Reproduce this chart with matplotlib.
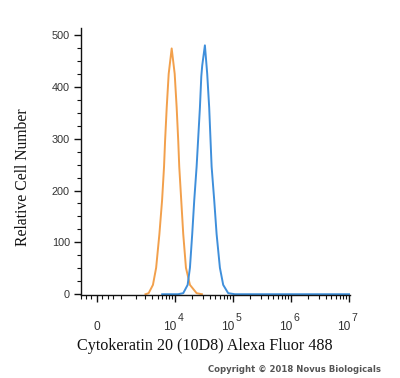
import numpy as np
import matplotlib
matplotlib.use("Agg")
import matplotlib.pyplot as plt
import matplotlib.transforms as mtransforms
from matplotlib.ticker import FixedLocator, NullFormatter

# fluorescence intensity (Alexa Fluor 488) and relative cell counts
orange_x = [3040, 3466, 4128, 4700, 5360, 5970, 6460, 6730, 7190, 7780, 8770,
            9890, 10700, 11400, 11860, 12840, 13900, 15480, 18150, 23660, 29230]
orange_y = [0, 2, 18, 51, 116, 181, 246, 295, 360, 425, 474,
            425, 360, 295, 246, 181, 116, 51, 18, 2, 0]

blue_x = [6000, 11270, 13900, 16560, 18150, 19870, 21530, 23660, 26980, 28500, 29570, 32890,
          36050, 39000, 42960, 47640, 52360, 59690, 68040, 82970, 108100, 10500000]
blue_y = [0, 0, 2, 18, 51, 116, 181, 246, 360, 420, 441, 480,
          425, 360, 246, 181, 116, 51, 18, 2, 0, 0]

major_ticks = [0, 1e4, 1e5, 1e6, 1e7]
major_bases = ["0", "10", "10", "10", "10"]
major_exps = ["", "4", "5", "6", "7"]
y_ticks = [0, 100, 200, 300, 400, 500]

C = 452.0
LN10 = np.log(10)

def fwd(x):
    x = np.asarray(x, dtype=float)
    return np.arcsinh(x / (2 * C)) / LN10 + np.log10(C)

def inv(u):
    u = np.asarray(u, dtype=float)
    return 2 * C * np.sinh((u - np.log10(C)) * LN10)

fig = plt.figure(figsize=(4.0, 3.78), dpi=100)
ax = fig.add_axes([0.2025, 0.2196, 0.6725, 0.7064])

ax.set_xscale('function', functions=(fwd, inv))
ax.plot(orange_x, orange_y, color='#F2A04C', lw=1.4)
ax.plot(blue_x, blue_y, color='#3F8FDB', lw=1.4)

ax.set_xlim(float(inv(2.38)), float(inv(7.02)))
ax.set_ylim(-1.5, 513.5)

for s in ['top', 'right']:
    ax.spines[s].set_visible(False)
for s in ['left', 'bottom']:
    ax.spines[s].set_linewidth(1.0)
    ax.spines[s].set_color('#111111')
ax.spines['bottom'].set_zorder(3)

ax.xaxis.set_major_locator(FixedLocator(major_ticks))
ax.xaxis.set_major_formatter(NullFormatter())
minors = [-600, -400, -200, 200, 400, 600, 1000]
for d in [1e3, 1e4, 1e5, 1e6]:
    minors += [k * d for k in range(2, 10)]
ax.xaxis.set_minor_locator(FixedLocator(minors))
ax.tick_params(axis='x', which='major', length=5, width=1, direction='out', color='#111111')
ax.tick_params(axis='x', which='minor', length=3, width=0.8, direction='out', color='#111111')

# x tick labels: base and superscript exponent
xtrans = ax.get_xaxis_transform()
for v, b, e in zip(major_ticks, major_bases, major_exps):
    if e:
        t1 = mtransforms.offset_copy(xtrans, fig=fig, x=1.2, y=-25.2, units='points')
        ax.text(v, 0, b, transform=t1, ha='right', va='baseline', fontsize=8.6,
                fontfamily='Liberation Sans', color='#333333', clip_on=False)
        t2 = mtransforms.offset_copy(xtrans, fig=fig, x=2.2, y=-18.5, units='points')
        ax.text(v, 0, e, transform=t2, ha='left', va='baseline', fontsize=7.6,
                fontfamily='Liberation Sans', color='#333333', clip_on=False)
    else:
        t1 = mtransforms.offset_copy(xtrans, fig=fig, x=0, y=-25.2, units='points')
        ax.text(v, 0, b, transform=t1, ha='center', va='baseline', fontsize=8.6,
                fontfamily='Liberation Sans', color='#333333', clip_on=False)

ax.yaxis.set_major_locator(FixedLocator(y_ticks))
ax.yaxis.set_minor_locator(FixedLocator(np.arange(25, 500, 25)))
ax.tick_params(axis='y', which='major', length=5, width=1, direction='out',
               pad=3, labelsize=7.8, labelcolor='#333333', color='#111111')
ax.tick_params(axis='y', which='minor', length=3, width=0.8, direction='out', color='#111111')
for lab in ax.get_yticklabels():
    lab.set_fontfamily('Liberation Sans')

fig.text(0.057, 0.532, 'Relative Cell Number', fontfamily='Liberation Serif', fontsize=11.3,
         rotation=90, ha='center', va='center', color='#111111')
fig.text(0.193, 0.085, 'Cytokeratin 20 (10D8) Alexa Fluor 488', fontfamily='Liberation Serif',
         fontsize=11.6, ha='left', va='center', color='#111111')
fig.text(0.952, 0.022, 'Copyright \u00a9 2018 Novus Biologicals', fontfamily='DejaVu Sans',
         fontsize=6.1, ha='right', va='center', color='#555555', fontweight='bold')

fig.savefig('out.png', dpi=100)
